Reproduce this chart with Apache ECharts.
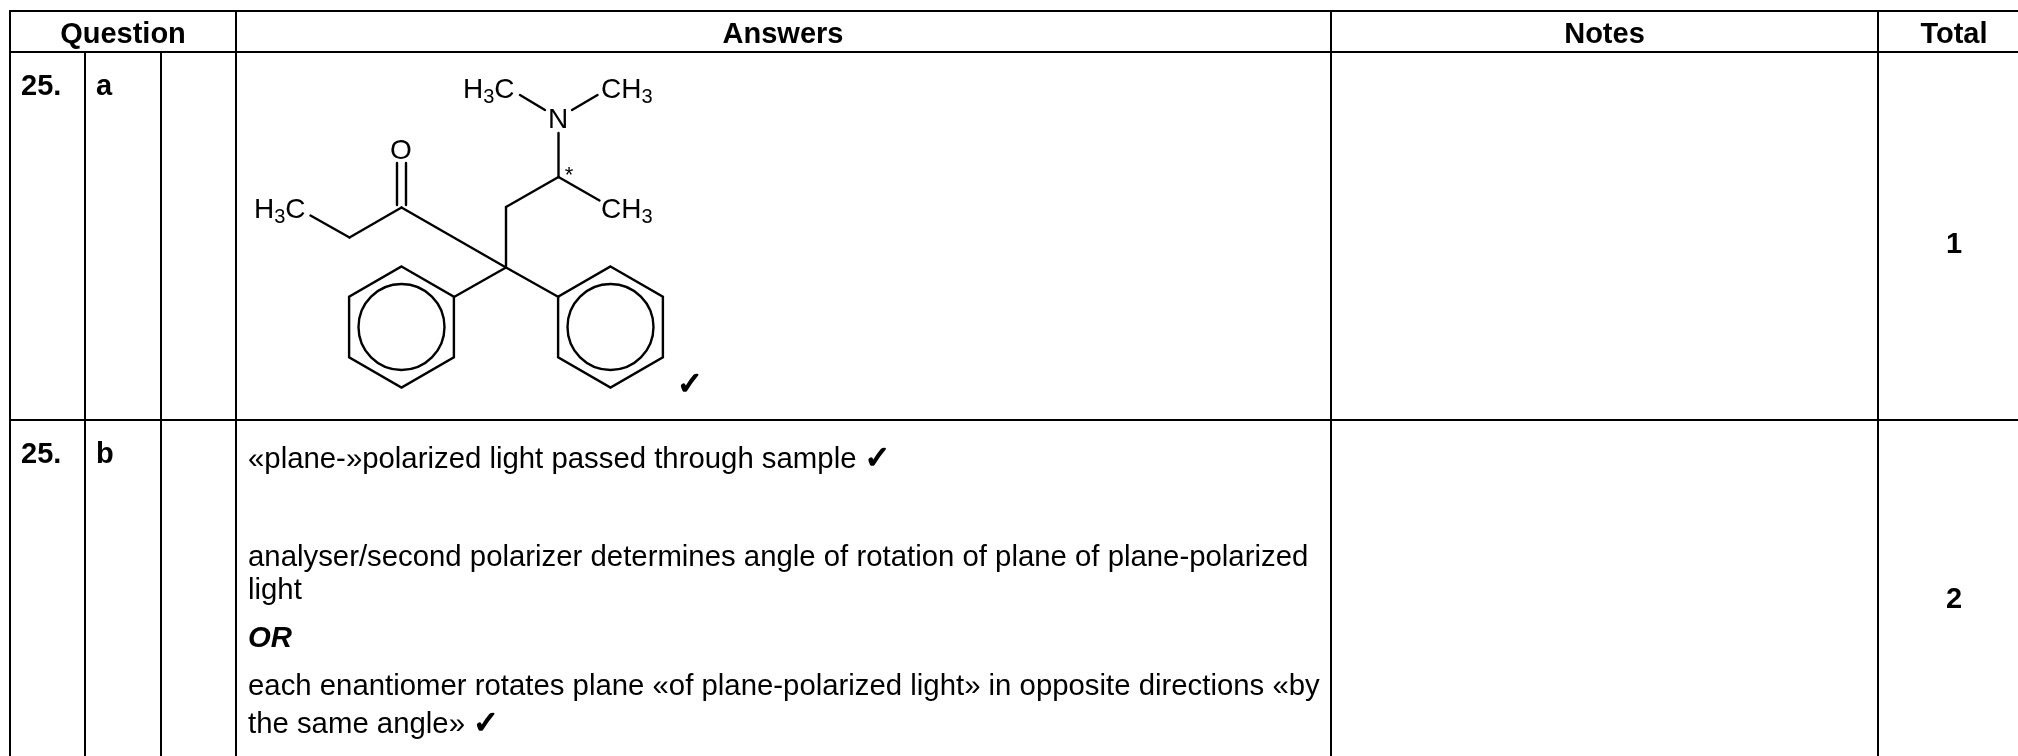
<!DOCTYPE html>
<html>
<head>
<meta charset="utf-8">
<title>Question 25 markscheme</title>
<style>
  html, body { margin: 0; padding: 0; background: #fff; }
  #main { width: 2018px; height: 756px; }
</style>
<script src="https://cdn.jsdelivr.net/npm/echarts@6/dist/echarts.min.js"></script>
</head>
<body>
<div id="main"></div>
<script>
// table rules, [x1, y1, x2, y2]
const tableRules = [
  [10, 11, 2018, 11], [10, 52, 2018, 52], [10, 420, 2018, 420],
  [10, 11, 10, 756], [85, 52, 85, 756], [161, 52, 161, 756],
  [236, 11, 236, 756], [1331, 11, 1331, 756], [1878, 11, 1878, 756]
]

// molecule
const bonds = [
  [310.5, 215.5, 349.5, 237.5], [349.5, 237.5, 401.5, 207.5],
  [397, 163, 397, 205], [406, 163, 406, 205],
  [401.5, 207.5, 506, 267.5], [506, 267.5, 506, 207], [506, 207, 558.5, 177],
  [558.5, 177, 558.5, 133], [558.5, 177, 599.5, 200.5],
  [520, 95, 545, 110], [572, 110, 597.5, 95],
  [506, 267.5, 454, 297], [506, 267.5, 558.5, 297]
]
const ringCentersX = [401.5, 610.5]
const ringCenterY = 327
const ringOuter = 60.5
const ringInner = 43

const headers = ['Question', 'Answers', 'Notes', 'Total']
const headerXs = [123, 783, 1604.5, 1954]
const headerY = 43

const questionLabels = ['25.', 'a', '25.', 'b']
const questionXs = [21, 96, 21, 96]
const questionYs = [95, 95, 463, 463]

const answerLines = [
  '«plane-»polarized light passed through sample {t|✓}',
  'analyser/second polarizer determines angle of rotation of plane of plane-polarized',
  'light',
  'each enantiomer rotates plane «of plane-polarized light» in opposite directions «by',
  'the same angle» {t|✓}'
]
const answerYs = [468, 566, 599, 695, 733]
const answerX = 248
const orLabel = ['OR']
const orY = 647

const totals = ['1', '2']
const totalYs = [253, 608]
const totalX = 1954

const atomLabels = ['H{s|3}C', 'H{s|3}C', 'CH{s|3}', 'CH{s|3}', 'N', 'O']
const atomXs = [254, 463, 601, 601, 558, 401]
const atomYs = [218, 98, 98, 218, 128, 159]
const starX = 569
const starY = 182
const tickX = 690
const tickY = 394

const FONT = '"Liberation Sans", "DejaVu Sans", sans-serif'
const TICK_FONT = '"DejaVu Sans", sans-serif'

function segmentSeries(rows, width) {
  return {
    type: 'custom',
    clip: false,
    silent: true,
    data: rows,
    encode: { x: [0, 2], y: [1, 3] },
    renderItem(params, api) {
      const a = api.coord([api.value(0), api.value(1)])
      const b = api.coord([api.value(2), api.value(3)])
      return {
        type: 'line',
        shape: { x1: a[0], y1: a[1], x2: b[0], y2: b[1] },
        style: { stroke: '#000', lineWidth: width, lineCap: 'round', fill: null }
      }
    }
  }
}

function ringSeries() {
  return {
    type: 'custom',
    clip: false,
    silent: true,
    data: ringCentersX.map(x => [x, ringCenterY]),
    renderItem(params, api) {
      const c = api.coord([api.value(0), api.value(1)])
      const pts = []
      for (let i = 0; i < 6; i++) {
        const t = Math.PI / 3 * i - Math.PI / 2
        pts.push([c[0] + ringOuter * Math.cos(t), c[1] + ringOuter * Math.sin(t)])
      }
      return {
        type: 'group',
        children: [
          { type: 'polygon', shape: { points: pts }, style: { stroke: '#000', lineWidth: 2.4, fill: null } },
          { type: 'circle', shape: { cx: c[0], cy: c[1], r: ringInner }, style: { stroke: '#000', lineWidth: 2.4, fill: null } }
        ]
      }
    }
  }
}

// y is the text baseline in axis units
function textSeries(strings, xs, ys, opts) {
  const size = opts.size
  return {
    type: 'custom',
    clip: false,
    silent: true,
    data: strings.map((s, i) => [xs[i], ys[i], s]),
    renderItem(params, api) {
      const i = params.dataIndex
      const p = api.coord([xs[i], ys[i]])
      return {
        type: 'text',
        x: p[0],
        y: p[1] - size * 0.27,
        style: {
          text: strings[i],
          fontFamily: FONT,
          fontSize: size,
          fontWeight: opts.weight || 'normal',
          fontStyle: opts.style || 'normal',
          fill: '#000',
          align: opts.align || 'left',
          verticalAlign: 'middle',
          rich: opts.rich
        }
      }
    }
  }
}

const tickRich = {
  t: { fontFamily: TICK_FONT, fontSize: 31, fontWeight: 'bold', fill: '#000', stroke: '#000', lineWidth: 1.6 }
}

const chart = echarts.init(document.getElementById('main'), null, { renderer: 'canvas' })
chart.setOption({
  animation: false,
  backgroundColor: '#fff',
  grid: { left: 0, right: 0, top: 0, bottom: 0 },
  xAxis: { type: 'value', min: 0, max: 2018, show: false },
  yAxis: { type: 'value', min: 0, max: 756, inverse: true, show: false },
  series: [
    segmentSeries(tableRules, 2),
    segmentSeries(bonds, 2.4),
    ringSeries(),
    textSeries(headers, headerXs, headers.map(() => headerY), { size: 29, weight: 'bold', align: 'center' }),
    textSeries(questionLabels, questionXs, questionYs, { size: 29, weight: 'bold' }),
    textSeries(answerLines, answerLines.map(() => answerX), answerYs, { size: 29.35, rich: tickRich }),
    textSeries(orLabel, [answerX], [orY], { size: 29.35, weight: 'bold', style: 'italic' }),
    textSeries(totals, totals.map(() => totalX), totalYs, { size: 29, weight: 'bold', align: 'center' }),
    textSeries(atomLabels.slice(0, 4), atomXs, atomYs, {
      size: 28,
      rich: { s: { fontFamily: FONT, fontSize: 20, fill: '#000', padding: [14, 0, 0, 0] } }
    }),
    textSeries(atomLabels.slice(4), atomXs.slice(4), atomYs.slice(4), { size: 28, align: 'center' }),
    textSeries(['*'], [starX], [starY], { size: 22, align: 'center' }),
    textSeries(['{t|✓}'], [tickX], [tickY], { size: 31, align: 'center', rich: tickRich })
  ]
})
</script>
</body>
</html>
